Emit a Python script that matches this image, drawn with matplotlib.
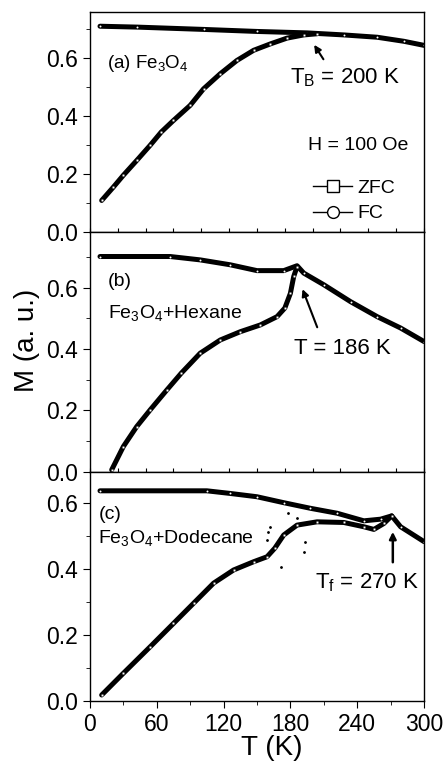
import matplotlib.pyplot as plt
from matplotlib.lines import Line2D
from matplotlib.ticker import MultipleLocator

plt.rcParams['font.family'] = ['Liberation Sans', 'DejaVu Sans']
plt.rcParams['mathtext.fontset'] = 'custom'
plt.rcParams['mathtext.rm'] = 'Liberation Sans'
plt.rcParams['mathtext.it'] = 'Liberation Sans:italic'

# (a) Fe3O4
a_fc_T = [9, 42, 102, 150, 195, 228, 258, 282, 300]
a_fc_M = [0.711, 0.708, 0.700, 0.693, 0.688, 0.681, 0.673, 0.659, 0.645]
a_zfc_T = [10.5, 21, 30, 42, 54, 64, 75, 90, 102, 117, 132, 147, 162, 177, 192, 204]
a_zfc_M = [0.110, 0.156, 0.197, 0.248, 0.300, 0.346, 0.386, 0.438, 0.495, 0.547,
           0.593, 0.628, 0.650, 0.670, 0.681, 0.685]

# (b) Fe3O4 + Hexane
b_fc_T = [9, 72, 99, 126, 150, 174, 186, 192, 210, 234, 258, 279, 300]
b_fc_M = [0.701, 0.701, 0.690, 0.674, 0.655, 0.655, 0.671, 0.647, 0.609, 0.554,
          0.505, 0.468, 0.424]
b_zfc_T = [19.5, 30, 42, 54, 69, 82, 99, 117, 135, 153, 168, 175, 180, 183, 186]
b_zfc_M = [0.006, 0.082, 0.147, 0.201, 0.266, 0.321, 0.386, 0.429, 0.456, 0.478,
           0.505, 0.533, 0.581, 0.636, 0.668]

# (c) Fe3O4 + Dodecane
c_fc_T = [9, 105, 126, 150, 174, 198, 222, 246, 261, 271, 279, 300]
c_fc_M = [0.638, 0.638, 0.630, 0.620, 0.602, 0.585, 0.570, 0.547, 0.552, 0.562,
          0.529, 0.484]
c_zfc_T = [10.5, 30, 54, 75, 93, 111, 129, 147, 159, 166, 174, 186, 204, 228, 246,
           255, 264, 271]
c_zfc_M = [0.019, 0.085, 0.165, 0.236, 0.297, 0.358, 0.398, 0.423, 0.438, 0.464,
           0.504, 0.534, 0.544, 0.542, 0.529, 0.521, 0.539, 0.562]
# stray points in (c)
c_noise_T = [159, 160, 162, 172, 178, 186, 192, 193]
c_noise_M = [0.489, 0.514, 0.529, 0.408, 0.570, 0.555, 0.453, 0.484]


def draw_curve(ax, T, M, marker):
    # thick black trace with small white specks, like the dense open symbols
    ax.plot(T, M, '-', color='black', lw=3.6, solid_capstyle='round',
            solid_joinstyle='round')
    ax.plot(T, M, marker, ms=1.4, mfc='white', mec='none')


def style_axis(ax, ylim, bottom_labels):
    ax.set_xlim(0, 300)
    ax.set_ylim(*ylim)
    ax.yaxis.set_major_locator(MultipleLocator(0.2))
    ax.yaxis.set_minor_locator(MultipleLocator(0.1))
    ax.tick_params(axis='y', which='major', direction='out', length=5, labelsize=16.5)
    ax.tick_params(axis='y', which='minor', direction='out', length=3)
    ax.yaxis.set_major_formatter(plt.FormatStrFormatter('%.1f'))
    if bottom_labels:
        ax.xaxis.set_major_locator(MultipleLocator(60))
        ax.xaxis.set_minor_locator(MultipleLocator(30))
        ax.tick_params(axis='x', which='major', direction='out', length=5, labelsize=16.5)
        ax.tick_params(axis='x', which='minor', direction='out', length=3)
    else:
        ax.xaxis.set_major_locator(MultipleLocator(25))
        ax.tick_params(axis='x', which='major', direction='in', length=3, labelbottom=False)
    for s in ax.spines.values():
        s.set_linewidth(1)


fig = plt.figure(figsize=(4.45, 7.62), dpi=100)
ax_a = fig.add_axes([0.2022, 0.6951, 0.7506, 0.2895])
ax_b = fig.add_axes([0.2022, 0.3810, 0.7506, 0.3142])
ax_c = fig.add_axes([0.2022, 0.0797, 0.7506, 0.3013])

# panel a
draw_curve(ax_a, a_fc_T, a_fc_M, 'o')
draw_curve(ax_a, a_zfc_T, a_zfc_M, 's')
style_axis(ax_a, (0, 0.761), False)
ax_a.text(15, 0.584, r'(a) Fe$_\mathregular{3}$O$_\mathregular{4}$', fontsize=13.5, va='center')
ax_a.text(180, 0.535, r'T$_\mathregular{B}$ = 200 K', fontsize=16, va='center')
ax_a.annotate('', xy=(200, 0.655), xytext=(211, 0.589),
              arrowprops=dict(arrowstyle='-|>', color='black', lw=1.5, mutation_scale=10))
ax_a.text(196, 0.299, 'H = 100 Oe', fontsize=14, va='center')
handles = [
    Line2D([], [], color='black', lw=1, marker='s', ms=8.5, mfc='white', mec='black'),
    Line2D([], [], color='black', lw=1, marker='o', ms=8.5, mfc='white', mec='black'),
]
ax_a.legend(handles, ['ZFC', 'FC'], loc='lower left', bbox_to_anchor=(0.645, 0.01),
            frameon=False, fontsize=14, handlelength=2.0, handletextpad=0.25,
            labelspacing=0.4, borderaxespad=0)

# panel b
draw_curve(ax_b, b_fc_T, b_fc_M, 'o')
draw_curve(ax_b, b_zfc_T, b_zfc_M, 's')
style_axis(ax_b, (0, 0.78), False)
ax_b.text(16, 0.62, '(b)', fontsize=14, va='center')
ax_b.text(16, 0.517, r'Fe$_\mathregular{3}$O$_\mathregular{4}$+Hexane', fontsize=14, va='center')
ax_b.text(183, 0.402, 'T = 186 K', fontsize=16, va='center')
ax_b.annotate('', xy=(190, 0.603), xytext=(205, 0.462),
              arrowprops=dict(arrowstyle='-|>', color='black', lw=1.5, mutation_scale=10))

# panel c
draw_curve(ax_c, c_fc_T, c_fc_M, 'o')
draw_curve(ax_c, c_zfc_T, c_zfc_M, 's')
ax_c.plot(c_noise_T, c_noise_M, '.', color='black', ms=2)
style_axis(ax_c, (0, 0.696), True)
ax_c.text(7.5, 0.565, '(c)', fontsize=14, va='center')
ax_c.text(7.5, 0.494, r'Fe$_\mathregular{3}$O$_\mathregular{4}$+Dodecane', fontsize=14, va='center')
ax_c.text(202, 0.36, r'T$_\mathregular{f}$ = 270 K', fontsize=16, va='center')
ax_c.annotate('', xy=(272, 0.522), xytext=(272, 0.413),
              arrowprops=dict(arrowstyle='-|>', color='black', lw=1.8, mutation_scale=10))

fig.text(27 / 445, 1 - 340 / 762, 'M (a. u.)', rotation=90, fontsize=20,
         ha='center', va='center')
fig.text(272 / 445, 1 - 748 / 762, 'T (K)', fontsize=20, ha='center', va='center')

fig.savefig('out.png', dpi=100)
